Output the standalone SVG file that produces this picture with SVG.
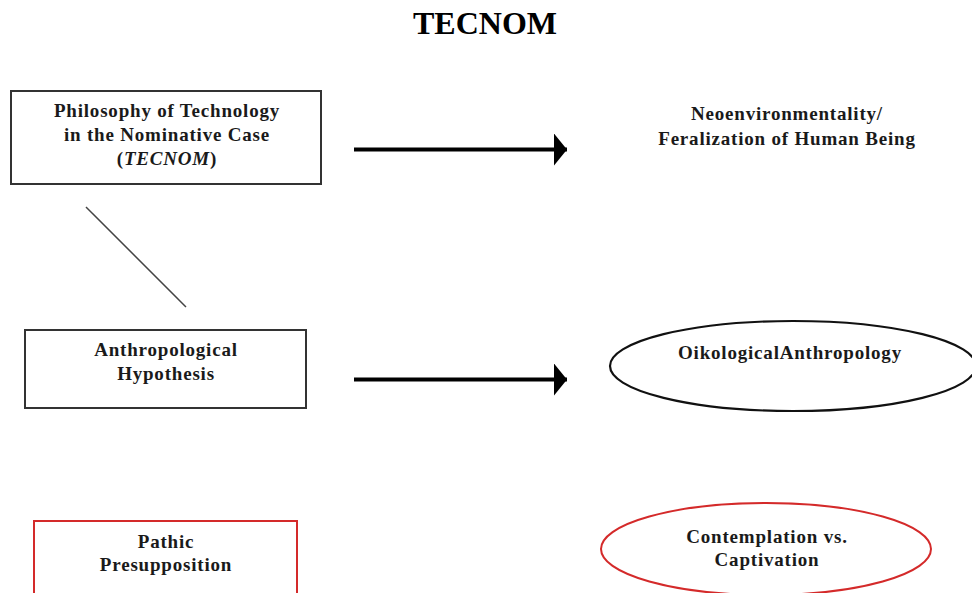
<svg xmlns="http://www.w3.org/2000/svg" width="972" height="593" viewBox="0 0 972 593">
<defs>
<style>
.t{font-family:"Liberation Serif","Times New Roman",serif;font-weight:bold;font-size:19px;letter-spacing:0.8px;fill:#1a1a1a;text-anchor:middle}
.title{font-family:"Liberation Serif","Times New Roman",serif;font-weight:bold;font-size:32px;fill:#000;text-anchor:middle}
.box{fill:#fff;stroke:#333;stroke-width:2}
.oval{fill:#fff;stroke:#111;stroke-width:2.2}
.red{fill:#fff;stroke:#d42a2a;stroke-width:2}
.conn{stroke:#000;stroke-width:4;fill:none}
</style>
<marker id="ah" markerUnits="userSpaceOnUse" markerWidth="14" markerHeight="32" refX="13" refY="16" orient="auto">
<path d="M0,0 L13,16 L0,32 Z" fill="#000"/>
</marker>
</defs>
<rect width="972" height="593" fill="#fff"/>
<text class="title" x="485" y="34">TECNOM</text>
<g id="connectors">
<line x1="86" y1="207" x2="186" y2="307" stroke="#444" stroke-width="1.5"/>
<line class="conn" x1="354" y1="149.5" x2="567" y2="149.5" marker-end="url(#ah)"/>
<line class="conn" x1="354" y1="379.5" x2="567" y2="379.5" marker-end="url(#ah)"/>
</g>
<g id="philosophy">
<rect class="box" x="11" y="91" width="310" height="93"/>
<text class="t" x="167" y="117">Philosophy of Technology</text>
<text class="t" x="167" y="141">in the Nominative Case</text>
<text class="t" x="167" y="165">(<tspan font-style="italic">TECNOM</tspan>)</text>
</g>
<g id="anthropological">
<rect class="box" x="25" y="330" width="281" height="78"/>
<text class="t" x="166" y="356">Anthropological</text>
<text class="t" x="166" y="380">Hypothesis</text>
</g>
<g id="pathic">
<rect class="red" x="34" y="521" width="263" height="80"/>
<text class="t" x="166" y="548">Pathic</text>
<text class="t" x="166" y="571">Presupposition</text>
</g>
<g id="neoenvironmentality">
<text class="t" x="787" y="120">Neoenvironmentality/</text>
<text class="t" x="787" y="145">Feralization of Human Being</text>
</g>
<g id="oikological">
<ellipse class="oval" cx="793" cy="366" rx="183" ry="45"/>
<text class="t" x="790" y="359">OikologicalAnthropology</text>
</g>
<g id="contemplation">
<ellipse class="red" cx="766" cy="549" rx="165" ry="46"/>
<text class="t" x="767" y="543">Contemplation vs.</text>
<text class="t" x="767" y="566">Captivation</text>
</g>
</svg>
